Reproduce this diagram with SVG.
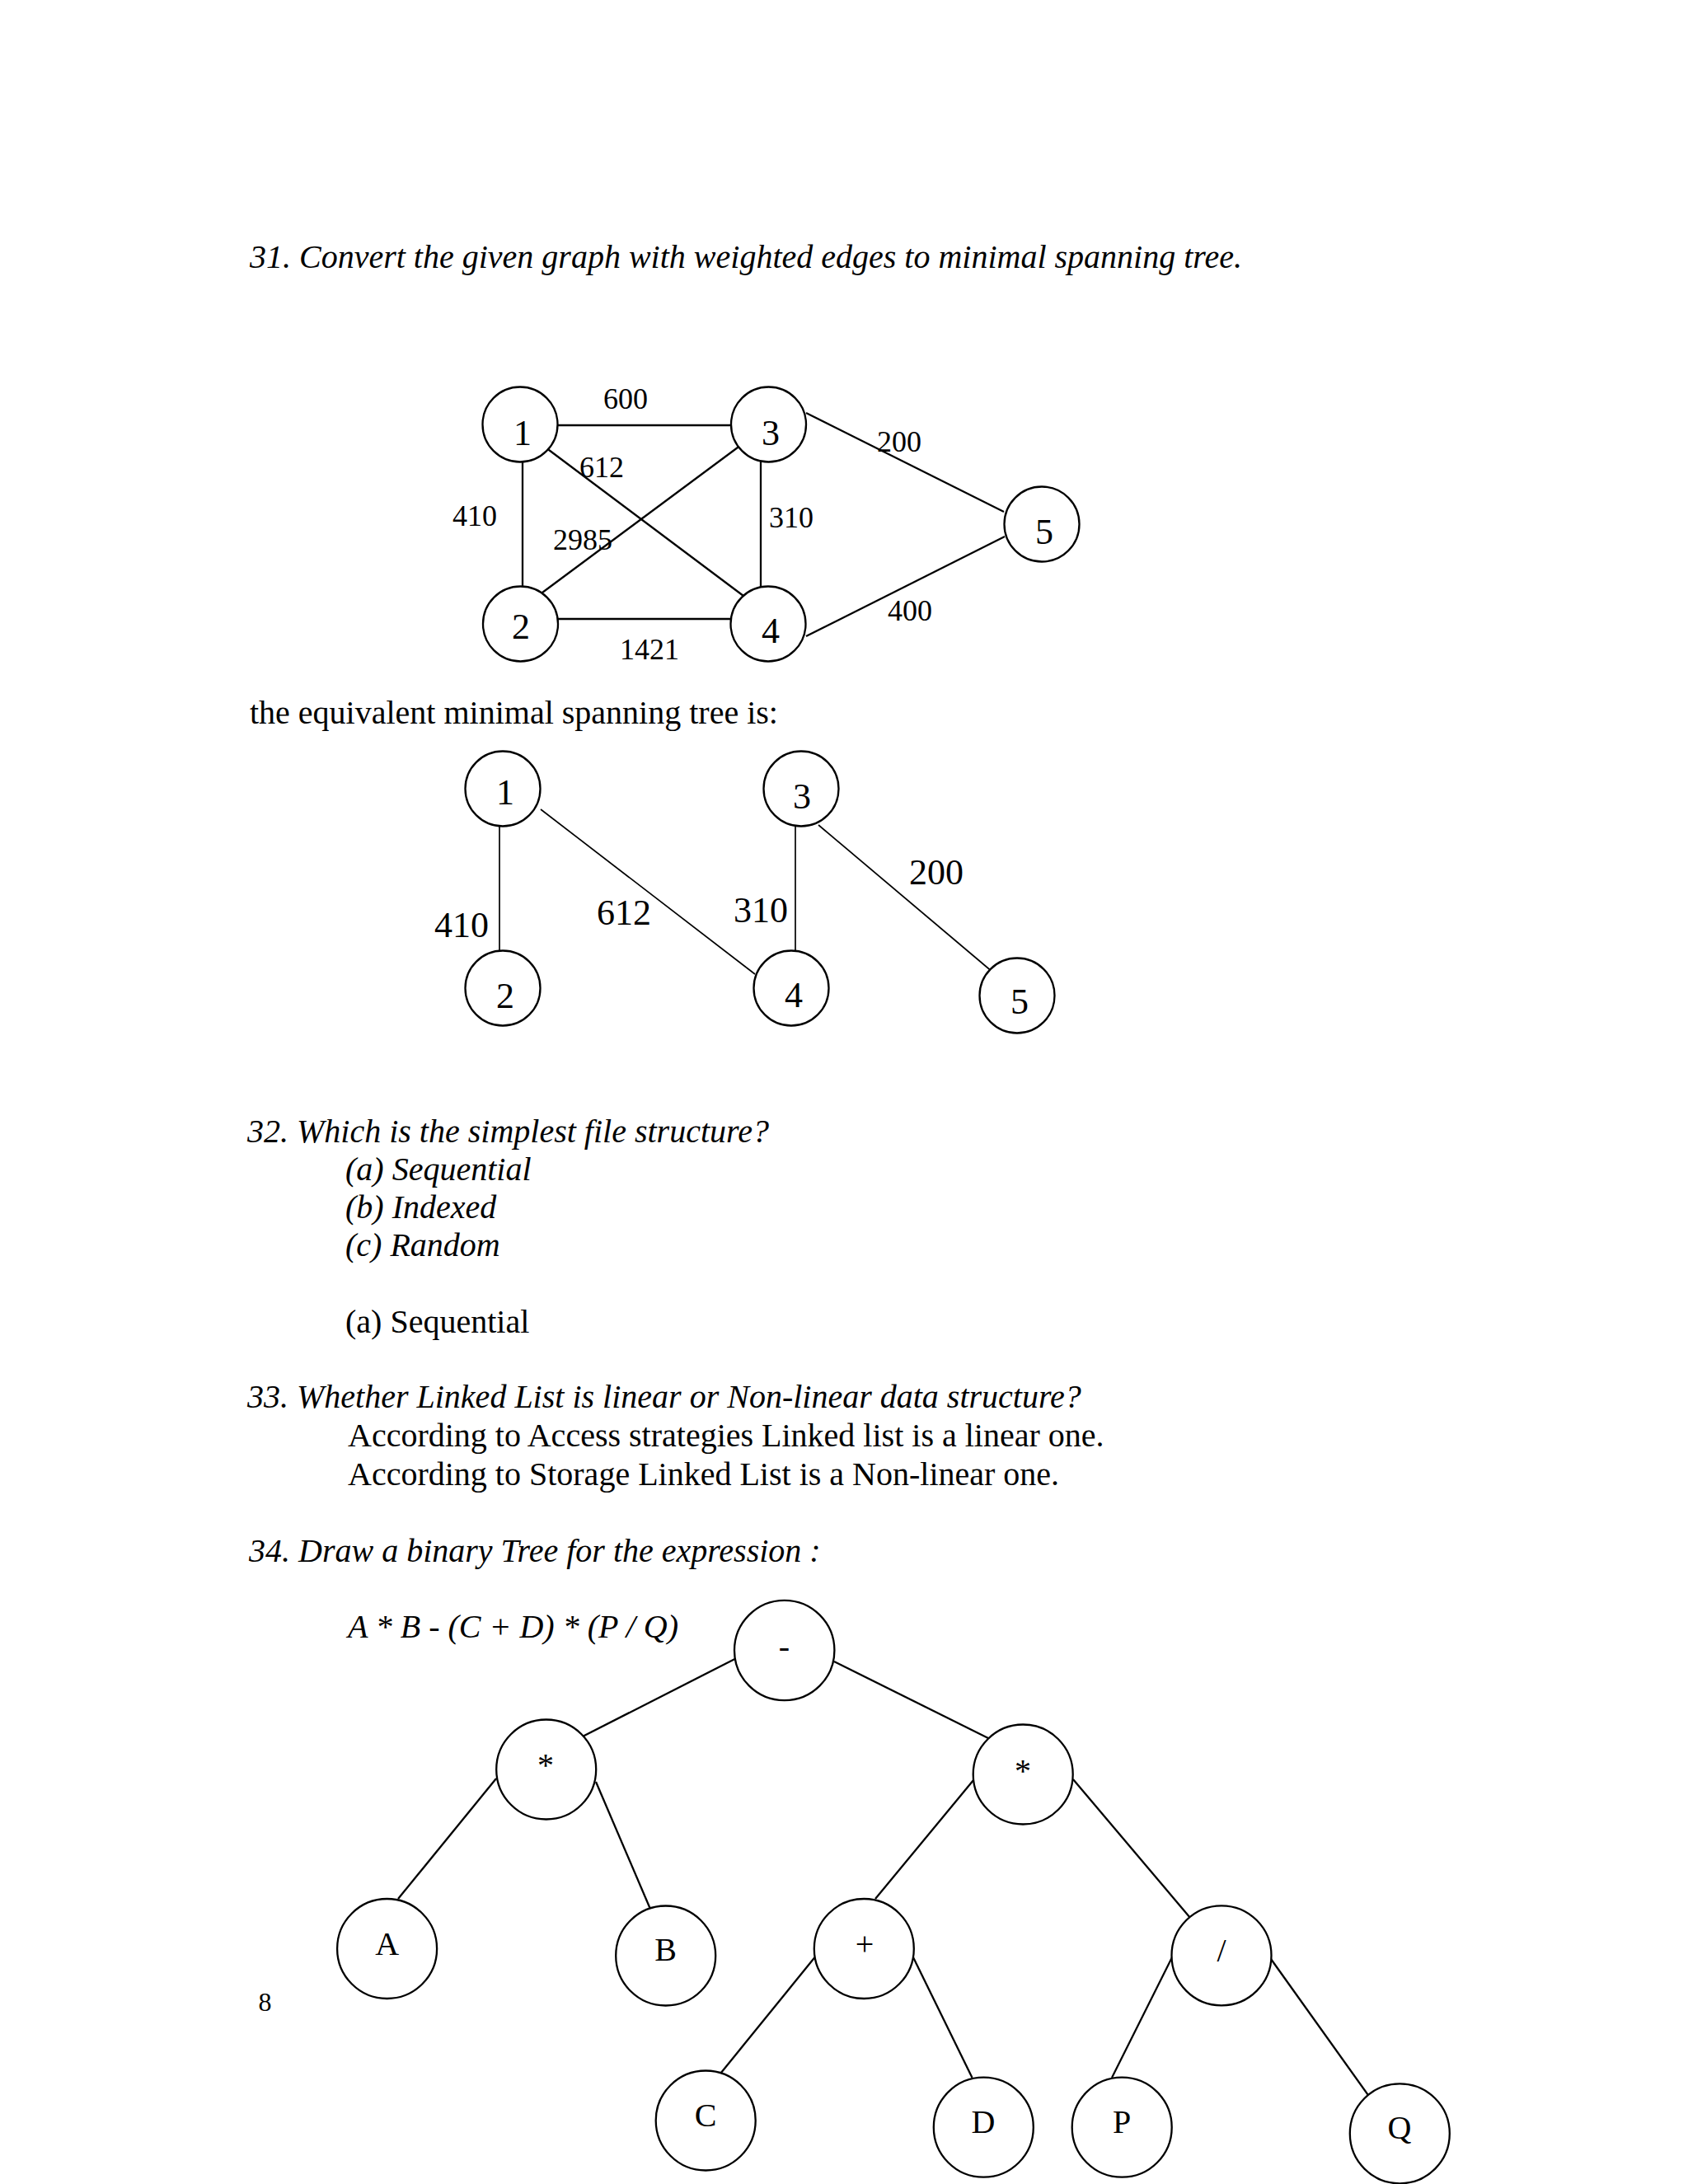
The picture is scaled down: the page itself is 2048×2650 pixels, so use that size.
<svg xmlns="http://www.w3.org/2000/svg" width="2048" height="2650" viewBox="0 0 2048 2650">
<style>
text{font-family:"Liberation Serif","Times New Roman",serif;fill:#000}
.p{font-size:40px}
.i{font-size:40px;font-style:italic}
.el{font-size:36px}
.nl{font-size:44px;text-anchor:middle}
.ml{font-size:44px}
.xl{font-size:40px;text-anchor:middle}
.n{fill:#fff;stroke:#000;stroke-width:2.3}
.c line{stroke:#000;stroke-width:2.3}
.c2 line{stroke:#000;stroke-width:1.7}
</style>
<rect width="2048" height="2650" fill="#fff"/>

<text class="i" x="303" y="325">31. Convert the given graph with weighted edges to minimal spanning tree.</text>

<!-- Graph 1 connectors -->
<g id="g1-edges" class="c">
<line x1="677" y1="516" x2="887" y2="516"/>
<line x1="677" y1="751" x2="887" y2="751"/>
<line x1="634" y1="561" x2="634" y2="712"/>
<line x1="923" y1="560" x2="923" y2="712"/>
<line x1="662" y1="543" x2="902" y2="723"/>
<line x1="658" y1="719" x2="899" y2="540"/>
<line x1="978" y1="501" x2="1218" y2="621"/>
<line x1="978" y1="772" x2="1219" y2="651"/>
</g>
<g id="g1-labels">
<text class="el" x="732" y="496">600</text>
<text class="el" x="703" y="579">612</text>
<text class="el" x="549" y="638">410</text>
<text class="el" x="671" y="667">2985</text>
<text class="el" x="933" y="640">310</text>
<text class="el" x="1064" y="548">200</text>
<text class="el" x="1077" y="753">400</text>
<text class="el" x="752" y="800">1421</text>
</g>
<g id="g1-n1"><circle class="n" cx="631" cy="515" r="45.5"/><text class="nl" x="634" y="540">1</text></g>
<g id="g1-n3"><circle class="n" cx="932.5" cy="515" r="45.5"/><text class="nl" x="935" y="540">3</text></g>
<g id="g1-n2"><circle class="n" cx="631.5" cy="757" r="45.5"/><text class="nl" x="632" y="775">2</text></g>
<g id="g1-n4"><circle class="n" cx="932" cy="757" r="45.5"/><text class="nl" x="935" y="780">4</text></g>
<g id="g1-n5"><circle class="n" cx="1264" cy="636" r="45.5"/><text class="nl" x="1267" y="660">5</text></g>

<text class="p" x="303" y="878">the equivalent minimal spanning tree is:</text>

<!-- MST connectors -->
<g id="mst-edges" class="c2">
<line x1="606" y1="1003" x2="606" y2="1158"/>
<line x1="656" y1="982" x2="916" y2="1182"/>
<line x1="965" y1="1003" x2="965" y2="1160"/>
<line x1="993" y1="1001" x2="1205" y2="1180"/>
</g>
<g id="mst-labels">
<text class="ml" x="527" y="1137">410</text>
<text class="ml" x="724" y="1122">612</text>
<text class="ml" x="890" y="1119">310</text>
<text class="ml" x="1103" y="1073">200</text>
</g>
<g id="mst-n1"><circle class="n" cx="610" cy="957" r="45.5"/><text class="nl" x="613" y="976">1</text></g>
<g id="mst-n3"><circle class="n" cx="972" cy="957" r="45.5"/><text class="nl" x="973" y="981">3</text></g>
<g id="mst-n2"><circle class="n" cx="610" cy="1199" r="45.5"/><text class="nl" x="613" y="1223">2</text></g>
<g id="mst-n4"><circle class="n" cx="960" cy="1199" r="45.5"/><text class="nl" x="963" y="1222">4</text></g>
<g id="mst-n5"><circle class="n" cx="1234" cy="1208" r="45.5"/><text class="nl" x="1237" y="1230">5</text></g>

<text class="i" x="300" y="1386">32. Which is the simplest file structure?</text>
<text class="i" x="419" y="1432">(a) Sequential</text>
<text class="i" x="419" y="1478">(b) Indexed</text>
<text class="i" x="419" y="1524">(c) Random</text>
<text class="p" x="419" y="1617">(a) Sequential</text>
<text class="i" x="300" y="1708">33. Whether Linked List is linear or Non-linear data structure?</text>
<text class="p" x="422" y="1755">According to Access strategies Linked list is a linear one.</text>
<text class="p" x="422" y="1802">According to Storage Linked List is a Non-linear one.</text>
<text class="i" x="302" y="1895">34. Draw a binary Tree for the expression :</text>
<text class="i" x="422" y="1987">A * B - (C + D) * (P / Q)</text>

<!-- Expression tree connectors -->
<g id="et-edges" class="c">
<line x1="891.5" y1="2013" x2="699" y2="2111"/>
<line x1="1012" y1="2016" x2="1203" y2="2111"/>
<line x1="602" y1="2158" x2="483" y2="2304"/>
<line x1="723" y1="2162" x2="794" y2="2328"/>
<line x1="1181" y1="2160" x2="1062" y2="2304"/>
<line x1="1302" y1="2159" x2="1444" y2="2327"/>
<line x1="988.5" y1="2375" x2="870" y2="2521"/>
<line x1="1108" y1="2375" x2="1179.5" y2="2521"/>
<line x1="1422" y1="2375" x2="1349" y2="2521"/>
<line x1="1542" y1="2377" x2="1662" y2="2545"/>
</g>
<g id="et-root"><circle class="n" cx="951.7" cy="2002.5" r="60.7"/><text class="xl" x="951.5" y="2011">-</text></g>
<g id="et-mul1"><circle class="n" cx="662.7" cy="2147" r="60.5"/><text class="xl" x="662" y="2155">*</text></g>
<g id="et-mul2"><circle class="n" cx="1241.2" cy="2153" r="60.5"/><text class="xl" x="1241" y="2162">*</text></g>
<g id="et-a"><circle class="n" cx="469.6" cy="2364.5" r="60.5"/><text class="xl" x="469.6" y="2372">A</text></g>
<g id="et-b"><circle class="n" cx="807.7" cy="2373" r="60.5"/><text class="xl" x="807.7" y="2379">B</text></g>
<g id="et-plus"><circle class="n" cx="1048.3" cy="2364.5" r="60.5"/><text class="xl" x="1049" y="2372">+</text></g>
<g id="et-div"><circle class="n" cx="1482" cy="2372.8" r="60.5"/><text class="xl" x="1482" y="2380">/</text></g>
<g id="et-c"><circle class="n" cx="856.2" cy="2573" r="60.5"/><text class="xl" x="856" y="2580">C</text></g>
<g id="et-d"><circle class="n" cx="1193.3" cy="2581.2" r="60.5"/><text class="xl" x="1193" y="2588">D</text></g>
<g id="et-p"><circle class="n" cx="1361.2" cy="2581.2" r="60.5"/><text class="xl" x="1361" y="2588">P</text></g>
<g id="et-q"><circle class="n" cx="1698.3" cy="2588.8" r="60.5"/><text class="xl" x="1698" y="2595">Q</text></g>

<text x="321.5" y="2440" style="font-size:32px;text-anchor:middle">8</text>
</svg>
